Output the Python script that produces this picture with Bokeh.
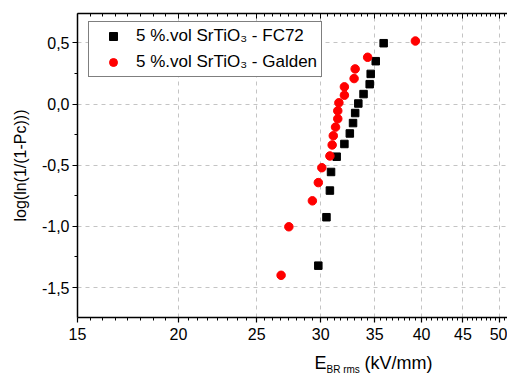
from bokeh.plotting import figure
from bokeh.layouts import column
from bokeh.models import (LogAxis, FixedTicker, CustomJSTickFormatter, Legend,
                          LegendItem, Label, Range1d)
from bokeh.embed import file_html
from bokeh.resources import INLINE

# ---- data ----
fc72_x = [35.9, 35.1, 34.6, 34.5, 33.9, 33.4, 33.1, 32.9, 32.6, 32.1, 31.4, 30.9, 30.8, 30.5, 29.8]
fc72_y = [0.498, 0.351, 0.247, 0.163, 0.082, 0.005, -0.073, -0.155, -0.240, -0.326, -0.430,
          -0.555, -0.707, -0.925, -1.321]
galden_x = [39.3, 34.3, 33.1, 33.0, 32.1, 32.1, 31.6, 31.5, 31.5, 31.3, 31.1, 31.0, 30.8,
            30.1, 29.8, 29.3, 27.4, 26.8]
galden_y = [0.516, 0.383, 0.288, 0.209, 0.141, 0.073, 0.011, -0.055, -0.120, -0.188, -0.259,
            -0.334, -0.424, -0.520, -0.642, -0.791, -1.003, -1.400]
label_fc72 = "5 %.vol SrTiO\u2083 - FC72"
label_galden = "5 %.vol SrTiO\u2083 - Galden"
x_ticks = [15, 20, 25, 30, 35, 40, 45, 50]
y_ticks = [-1.5, -1.0, -0.5, 0.0, 0.5]
y_minor = [-1.75, -1.25, -0.75, -0.25, 0.25, 0.75]
x_title_main = "E"
x_title_sub = "BR rms"
x_title_unit = "(kV/mm)"
y_title = "log(ln(1/(1-Pc)))"

FONT = "Liberation Sans"

# minor ticks on x: 7 per interval, evenly spaced on the log axis
x_minor = []
edges = x_ticks + [55]
for a, b in zip(edges[:-1], edges[1:]):
    for k in range(1, 8):
        x_minor.append(a * (b / a) ** (k / 8))

p = figure(width=507, height=345, x_axis_type="log",
           x_range=Range1d(15, 51.1), y_range=Range1d(-1.745, 0.741),
           output_backend="svg", toolbar_location=None,
           min_border_left=77, min_border_right=0, min_border_top=13, min_border_bottom=28)
p.outline_line_color = None
p.background_fill_color = "white"
p.border_fill_color = "white"

xax = p.xaxis[0]
yax = p.yaxis[0]
xax.ticker = FixedTicker(ticks=x_ticks, minor_ticks=x_minor)
xax.formatter = CustomJSTickFormatter(code="return tick.toFixed(0);")
yax.ticker = FixedTicker(ticks=y_ticks, minor_ticks=y_minor)
yax.formatter = CustomJSTickFormatter(code="return tick.toFixed(1).replace('.', ',');")

for ax in (xax, yax):
    ax.axis_line_width = 1.5
    ax.axis_line_color = "black"
    ax.major_tick_line_color = "black"
    ax.minor_tick_line_color = "black"
    ax.major_tick_line_width = 1.2
    ax.minor_tick_line_width = 1
    ax.major_tick_in = 0
    ax.major_tick_out = 5
    ax.minor_tick_in = 0
    ax.minor_tick_out = 3
    ax.major_label_text_font = FONT
    ax.major_label_text_font_size = "16px"
    ax.major_label_text_color = "black"

xax.major_label_standoff = 5
yax.major_label_standoff = 3
yax.axis_label = y_title
yax.axis_label_text_font = FONT
yax.axis_label_text_font_size = "16px"
yax.axis_label_text_font_style = "normal"
yax.axis_label_text_color = "black"
yax.axis_label_standoff = 10

for g in (p.xgrid[0], p.ygrid[0]):
    g.grid_line_color = "#c4c4c4"
    g.grid_line_dash = "4 4"
    g.grid_line_width = 1

# top axis with inward ticks, no labels
top = LogAxis(ticker=FixedTicker(ticks=x_ticks, minor_ticks=x_minor),
              formatter=CustomJSTickFormatter(code="return '';"))
top.axis_line_width = 1.5
top.major_tick_in = 5
top.major_tick_out = 0
top.minor_tick_in = 3
top.minor_tick_out = 0
top.major_label_standoff = 0
top.major_label_text_font_size = "1px"
p.add_layout(top, "above")

r1 = p.scatter(fc72_x, fc72_y, marker="square", size=7.5, fill_color="black",
               line_color="black")
r2 = p.scatter(galden_x, galden_y, marker="circle", size=8.5, fill_color="#ff0000",
               line_color="#ff0000")

legend = Legend(items=[LegendItem(label=label_fc72, renderers=[r1]),
                       LegendItem(label=label_galden, renderers=[r2])],
                location=(11, 240))
legend.border_line_color = "black"
legend.border_line_width = 1
legend.background_fill_color = "white"
legend.background_fill_alpha = 1
legend.label_text_font = FONT
legend.label_text_font_size = "17px"
legend.label_text_color = "black"
legend.glyph_width = 40
legend.label_standoff = 3
legend.label_height = 20
legend.spacing = 6
legend.padding = 4
legend.margin = 0
p.add_layout(legend)

# x-axis title (with subscript) drawn in a strip below the plot
t = figure(width=507, height=31, output_backend="svg", toolbar_location=None,
           x_axis_location=None, y_axis_location=None, min_border=0)
t.outline_line_color = None
t.xgrid.visible = False
t.ygrid.visible = False
common = dict(x_units="screen", y_units="screen", text_font=FONT, text_color="black",
              text_align="left", text_baseline="alphabetic")
t.add_layout(Label(x=237, y=14, text=x_title_main, text_font_size="18px", **common))
t.add_layout(Label(x=249, y=7, text=x_title_sub, text_font_size="10px", **common))
t.add_layout(Label(x=287, y=14, text=x_title_unit, text_font_size="18px", **common))

layout = column(p, t, spacing=0)
open("out.html", "w").write(file_html(layout, INLINE))
